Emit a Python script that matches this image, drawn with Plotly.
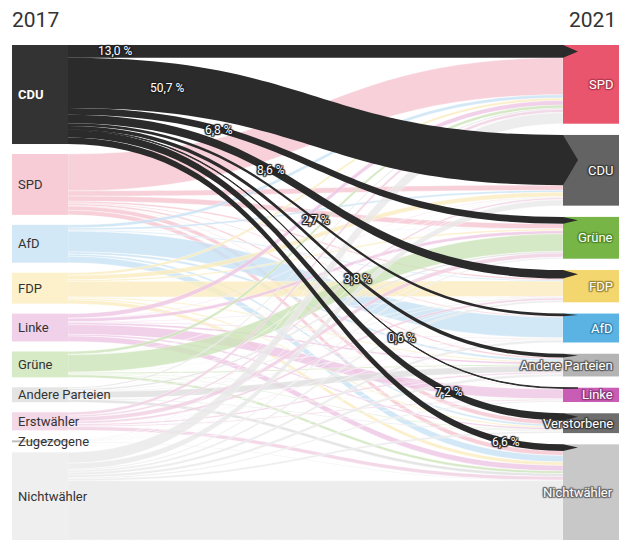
import numpy as np
import plotly.graph_objects as go

# ---------------- data ----------------
years = ["2017", "2021"]
sources = ["CDU", "SPD", "AfD", "FDP", "Linke", "Grüne", "Andere Parteien",
           "Erstwähler", "Zugezogene", "Nichtwähler"]
targets = ["SPD", "CDU", "Grüne", "FDP", "AfD", "Andere Parteien", "Linke",
           "Verstorbene", "Nichtwähler"]

# voter flows in thousands; one list per 2017 group, ordered like `targets`
flow_cdu = [1989, 7757, 1040, 1316, 413, 581, 92, 1102, 1010]
flow_spd = [5700, 800, 800, 250, 150, 250, 100, 650, 700]
flow_afd = [500, 300, 30, 150, 3200, 350, 20, 300, 1000]
flow_fdp = [400, 700, 250, 2400, 50, 180, 20, 230, 550]
flow_linke = [700, 50, 500, 50, 100, 300, 1500, 250, 850]
flow_gruene = [450, 50, 2700, 50, 10, 180, 60, 100, 400]
flow_andere = [200, 50, 250, 100, 80, 1000, 40, 130, 450]
flow_erst = [470, 280, 650, 350, 50, 250, 170, 0, 580]
flow_zuge = [50, 40, 40, 30, 20, 20, 10, 0, 90]
flow_nicht = [1700, 900, 200, 300, 400, 400, 200, 300, 9150]

flows = [flow_cdu, flow_spd, flow_afd, flow_fdp, flow_linke, flow_gruene,
         flow_andere, flow_erst, flow_zuge, flow_nicht]
highlight = 0  # CDU

# ---------------- style ----------------
src_colors = ["#333333", "#f7ccd6", "#d3e8f6", "#fcf1cb", "#f1d1ea", "#d6eac6",
              "#e4e4e4", "#f3d8e8", "#bdbdbd", "#efefef"]
src_link_rgb = [(51, 51, 51), (245, 196, 207), (200, 226, 244), (250, 236, 190),
                (238, 196, 228), (204, 228, 184), (222, 222, 222), (240, 206, 226),
                (225, 225, 225), (232, 232, 232)]
tgt_colors = ["#e8556c", "#636363", "#78b547", "#f4d66e", "#5bb3e4", "#b4b4b4",
              "#c95cb4", "#6e6e6e", "#c8c8c8"]
tgt_halo = ["#b83a50", "#3d3d3d", "#4f8a28", "#a08a38", "#3585b5", "#5c5c5c",
            "#8e3a7e", "#3a3a3a", "#6a6a6a"]
FIG_W, FIG_H = 619, 540
ML, MT = 12, 45
W, H = FIG_W - ML, FIG_H - MT
THICK, PAD, ARROW = 56, 10, 15
FONT = "Roboto, Arial, sans-serif"
label_t = [0.095, 0.20, 0.305, 0.41, 0.50, 0.585, 0.675, 0.77, 0.885]

# ---------------- layout computation (mirrors d3-sankey) ----------------
ns, nt = len(sources), len(targets)
src_tot = [sum(r) for r in flows]
tgt_tot = [sum(flows[i][j] for i in range(ns)) for j in range(nt)]
ky = min((H - (ns - 1) * PAD) / sum(src_tot), (H - (nt - 1) * PAD) / sum(tgt_tot))

src_h = [v * ky for v in src_tot]
tgt_h = [v * ky for v in tgt_tot]
src_gap = (H - sum(src_h)) / (ns - 1)
tgt_gap = (H - sum(tgt_h)) / (nt - 1)
src_y0 = [sum(src_h[:i]) + i * src_gap for i in range(ns)]
tgt_y0 = [sum(tgt_h[:j]) + j * tgt_gap for j in range(nt)]
src_yc = [src_y0[i] + src_h[i] / 2 for i in range(ns)]
tgt_yc = [tgt_y0[j] + tgt_h[j] / 2 for j in range(nt)]

node_y = [y / H for y in src_yc] + [y / H for y in tgt_yc]
xl = (THICK / 2) / W
xr = 1 - (THICK / 2) / W
xr_arrow = (W + ARROW - THICK / 2) / W

src_idx, tgt_idx, vals = [], [], []
for i in range(ns):
    for j in range(nt):
        if flows[i][j] > 0:
            src_idx.append(i)
            tgt_idx.append(ns + j)
            vals.append(flows[i][j])

colA, colB = [], []
for s in src_idx:
    r, g, b = src_link_rgb[s]
    if s == highlight:
        colA.append("rgba(255,255,255,0)")
        colB.append("rgba(43,43,43,1)")
    else:
        colA.append(f"rgba({r},{g},{b},0.8)")
        colB.append("rgba(255,255,255,0)")

labels_empty = [""] * (ns + nt)

traceA = go.Sankey(
    arrangement="fixed",
    domain=dict(x=[0, 1], y=[0, 1]),
    node=dict(label=labels_empty, color=src_colors + tgt_colors, thickness=THICK,
              pad=PAD, line=dict(width=0),
              x=[xl] * ns + [xr] * nt, y=node_y),
    link=dict(source=src_idx, target=tgt_idx, value=vals, color=colA,
              line=dict(color="rgba(255,255,255,0.7)", width=0.5)),
    hoverinfo="skip",
)
traceB = go.Sankey(
    arrangement="fixed",
    domain=dict(x=[0, 1], y=[0, 1]),
    node=dict(label=labels_empty, color=["rgba(255,255,255,0)"] * (ns + nt),
              thickness=THICK, pad=PAD, line=dict(width=0),
              x=[xl] * ns + [xr_arrow] * nt, y=node_y),
    link=dict(source=src_idx, target=tgt_idx, value=vals, color=colB,
              line=dict(color="rgba(255,255,255,0)", width=0), arrowlen=ARROW),
    hoverinfo="skip",
)

fig = go.Figure([traceA, traceB])


def px2paper(x, y):
    return x / W, 1 - y / H


def halo(c, r=1):
    return ", ".join(f"{dx}px {dy}px 1px {c}" for dx, dy in
                     [(-r, -r), (r, -r), (-r, r), (r, r), (0, r), (0, -r), (r, 0), (-r, 0)])


ann = []
# year headings
ann.append(dict(text=years[0], x=-2 / W, y=1 + 25 / H, xref="paper", yref="paper",
                xanchor="left", yanchor="middle", showarrow=False,
                font=dict(family=FONT, size=21, color="#333333")))
ann.append(dict(text=years[1], x=(W - 1) / W, y=1 + 25 / H, xref="paper",
                yref="paper", xanchor="right", yanchor="middle", showarrow=False,
                font=dict(family=FONT, size=21, color="#333333")))

# left labels
for i, name in enumerate(sources):
    x, y = px2paper(4, src_yc[i])
    ann.append(dict(text=name, x=x, y=y, xref="paper", yref="paper",
                    xanchor="left", yanchor="middle", showarrow=False,
                    font=dict(family=FONT, size=13,
                              color="white" if i == highlight else "#333333",
                              weight="bold" if i == highlight else "normal")))
# right labels
for j, name in enumerate(targets):
    x, y = px2paper(W - 4, tgt_yc[j])
    ann.append(dict(text=name, x=x, y=y, xref="paper", yref="paper",
                    xanchor="right", yanchor="middle", showarrow=False,
                    font=dict(family=FONT, size=13, color="white",
                              shadow=halo(tgt_halo[j]))))

# percentage labels on highlighted flows
row = flows[highlight]
tot = sum(row)
x0 = THICK
x1 = (W + ARROW - THICK) - ARROW   # body end of arrow trace (target.x0 - arrowlen)
s_grid = np.linspace(0, 1, 20001)
Xs = 1.5 * s_grid * (1 - s_grid) + s_grid ** 3
Ys = 3 * s_grid ** 2 - 2 * s_grid ** 3
cum = 0.0
for j in range(nt):
    v = row[j]
    w = v * ky
    ys = src_y0[highlight] + cum + w / 2
    yt = tgt_y0[j] + w / 2
    cum += w
    t = label_t[j]
    k = int(np.argmin(np.abs(Xs - t)))
    px = x0 + Xs[k] * (x1 - x0)
    py = ys + Ys[k] * (yt - ys)
    x, y = px2paper(px, py)
    txt = f"{100 * v / tot:.1f}".replace(".", ",") + " %"
    ann.append(dict(text=txt, x=x, y=y, xref="paper", yref="paper",
                    xanchor="center", yanchor="middle", showarrow=False,
                    font=dict(family=FONT, size=12, color="white",
                              shadow=halo("#222222"))))

fig.update_layout(
    width=FIG_W, height=FIG_H,
    margin=dict(l=ML, r=0, t=MT, b=0),
    paper_bgcolor="white", plot_bgcolor="white",
    annotations=ann,
    font=dict(family=FONT),
)

fig.write_html(
    "out.html",
    config={"displayModeBar": False},
    post_script="document.body.style.margin='0px';document.body.style.overflow='hidden';",
)
